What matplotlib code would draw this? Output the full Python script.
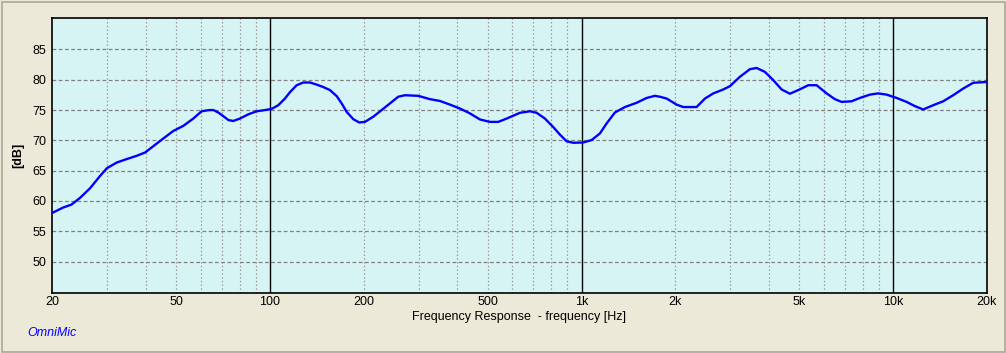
import matplotlib
matplotlib.use("Agg")
import matplotlib.pyplot as plt
import matplotlib.ticker as mticker
from matplotlib.patches import Rectangle

# ---------------------------------------------------------------------------
# Data
# ---------------------------------------------------------------------------
freq_hz = [20, 21.7, 23.1, 24.6, 26.5, 28.5, 30.0, 32.3, 34.7, 37.4, 39.8,
           42.3, 45.5, 49.0, 52.8, 56.8, 60.4, 63.9, 65.9, 68.3, 70.9, 73.6,
           76.3, 80.2, 85.3, 90.7, 96.5, 101.4, 106.4, 111.8, 116.0, 121.9,
           128.0, 134.5, 141.4, 148.4, 155.9, 163.9, 170.0, 176.4, 185.2,
           193.6, 201.9, 214.7, 228.4, 242.9, 258.2, 271.3, 299.4, 326.4,
           351.5, 378.4, 407.4, 438.6, 472.2, 508.4, 540.6, 575.4, 634.5,
           683.2, 717.8, 763, 811.4, 852.6, 895.8, 940.6, 1012.8, 1077.8,
           1146, 1204, 1280, 1378, 1502, 1618, 1720, 1785, 1876, 2019, 2120,
           2340, 2489, 2647, 2850, 2994, 3224, 3470, 3646, 3877, 4122, 4386,
           4662, 4960, 5340, 5680, 6116, 6502, 6832, 7356, 7821, 8420, 8952,
           9526, 10258, 11042, 11742, 12484, 13440, 14470, 15578, 16772,
           18056, 20000]
level_db = [58.0, 58.9, 59.4, 60.5, 62.1, 64.1, 65.4, 66.35, 66.9, 67.45,
            68.0, 69.05, 70.3, 71.55, 72.4, 73.6, 74.8, 75.0, 75.0, 74.6,
            74.0, 73.35, 73.2, 73.6, 74.3, 74.8, 75.0, 75.2, 75.8, 76.9,
            77.95, 79.1, 79.55, 79.55, 79.2, 78.8, 78.3, 77.3, 76.1, 74.7,
            73.5, 72.95, 73.05, 73.9, 75.0, 76.1, 77.2, 77.45, 77.35, 76.8,
            76.5, 75.9, 75.25, 74.45, 73.45, 73.05, 73.05, 73.6, 74.55, 74.8,
            74.55, 73.6, 72.2, 70.95, 69.85, 69.6, 69.65, 70.05, 71.15, 72.8,
            74.6, 75.5, 76.2, 77.0, 77.35, 77.2, 76.9, 75.9, 75.5, 75.5, 76.9,
            77.75, 78.4, 78.95, 80.5, 81.75, 81.95, 81.3, 79.95, 78.4, 77.7,
            78.3, 79.1, 79.1, 77.75, 76.8, 76.35, 76.45, 77.0, 77.55, 77.75,
            77.55, 77.0, 76.35, 75.65, 75.1, 75.8, 76.45, 77.45, 78.55, 79.5,
            79.65]

x_ticks = [20, 50, 100, 200, 500, 1000, 2000, 5000, 10000, 20000]
x_tick_labels = ["20", "50", "100", "200", "500", "1k", "2k", "5k", "10k", "20k"]
y_ticks = [50, 55, 60, 65, 70, 75, 80, 85]
decade_lines = [100, 1000, 10000]
minor_lines = [30, 40, 50, 60, 70, 80, 90,
               200, 300, 400, 500, 600, 700, 800, 900,
               2000, 3000, 4000, 5000, 6000, 7000, 8000, 9000]

# ---------------------------------------------------------------------------
# Style
# ---------------------------------------------------------------------------
BG_FIG = "#ECE9D8"
BG_AX = "#D7F4F4"
CURVE = "#0000FF"

plt.rcParams.update({
    "font.family": ["Liberation Sans", "DejaVu Sans"],
    "font.size": 8,
})

W, H = 1006, 353
fig = plt.figure(figsize=(W / 100, H / 100), dpi=100, facecolor=BG_FIG)
ax = fig.add_axes([52 / W, (H - 293) / H, 935 / W, 275 / H])
ax.set_facecolor(BG_AX)

ax.set_xscale("log")
ax.set_xlim(20, 20000)
ax.set_ylim(44.8, 90.2)

# grid
for f in minor_lines:
    ax.axvline(f, color="#9A9A9A", lw=0.9, ls=(0, (1.2, 1.8)), zorder=1)
for y in y_ticks:
    ax.axhline(y, color="#808080", lw=0.9, ls=(0, (3, 2)), zorder=1)
for f in decade_lines:
    ax.axvline(f, color="black", lw=1.0, zorder=2)

ax.plot(freq_hz, level_db, color=CURVE, lw=1.7, zorder=3,
        solid_joinstyle="round", solid_capstyle="butt")

ax.xaxis.set_major_locator(mticker.FixedLocator(x_ticks))
ax.xaxis.set_major_formatter(mticker.FixedFormatter(x_tick_labels))
ax.xaxis.set_minor_locator(mticker.NullLocator())
ax.set_yticks(y_ticks)
ax.tick_params(axis="both", length=0, labelsize=9, colors="black", pad=2)
ax.tick_params(axis="y", pad=4)

for s in ax.spines.values():
    s.set_color("black")
    s.set_linewidth(1.2)

ax.set_ylabel("[dB]", fontsize=9, fontweight="bold", labelpad=6)
ax.set_xlabel("Frequency Response  - frequency [Hz]", fontsize=9, labelpad=2)

fig.text(27 / W, 1 - 333 / H, "OmniMic", color=CURVE, fontsize=9,
         style="italic", ha="left", va="center")

# outer frame
fig.patches.append(Rectangle((1.5 / W, 1.5 / H), (W - 3) / W, (H - 3) / H,
                             transform=fig.transFigure, fill=False,
                             edgecolor="#ACA899", lw=1.2))

fig.savefig("out.png", dpi=100, facecolor=BG_FIG)
